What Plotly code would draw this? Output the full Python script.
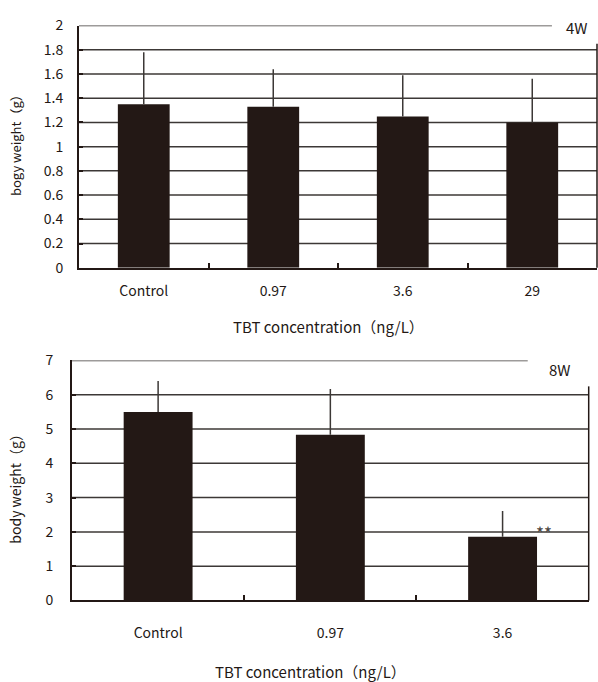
import plotly.graph_objects as go

# ---- data ----
cats_4w = ["Control", "0.97", "3.6", "29"]
mean_4w = [1.35, 1.33, 1.25, 1.20]
sd_4w = [0.43, 0.31, 0.34, 0.36]
yticks_4w = [0, 0.2, 0.4, 0.6, 0.8, 1, 1.2, 1.4, 1.6, 1.8, 2]

cats_8w = ["Control", "0.97", "3.6"]
mean_8w = [5.5, 4.83, 1.86]
sd_8w = [0.90, 1.34, 0.75]
yticks_8w = [0, 1, 2, 3, 4, 5, 6, 7]
sig_cat = "3.6"
sig_text = "**"

BAR = "#231815"
GRID = "#3c3836"
FONT = "Noto Sans CJK JP"
W, H = 598, 682

def py(px):
    return 1 - px / H

fig = go.Figure()
fig.add_trace(go.Bar(x=cats_4w, y=mean_4w, marker=dict(color=BAR, line=dict(width=0)),
                     error_y=dict(type="data", symmetric=False, array=sd_4w,
                                  arrayminus=[0] * len(sd_4w), width=0, thickness=1.5, color=GRID),
                     width=0.4, xaxis="x", yaxis="y", showlegend=False))
fig.add_trace(go.Bar(x=cats_8w, y=mean_8w, marker=dict(color=BAR, line=dict(width=0)),
                     error_y=dict(type="data", symmetric=False, array=sd_8w,
                                  arrayminus=[0] * len(sd_8w), width=0, thickness=1.5, color=GRID),
                     width=0.4, xaxis="x2", yaxis="y2", showlegend=False))

axfont = dict(family=FONT, size=14, color="#231815")
common_x = dict(type="category", showline=True, linecolor="#231815", linewidth=2,
                ticks="inside", ticklen=5, tickwidth=2, tickcolor="#231815",
                tickson="boundaries", showgrid=False, tickfont=axfont, fixedrange=True)
common_y = dict(showline=True, linecolor="#231815", linewidth=2, ticks="inside",
                ticklen=4, tickwidth=2, tickcolor="#231815", showgrid=False,
                zeroline=False, tickfont=axfont, fixedrange=True)

fig.update_layout(
    width=W, height=H, margin=dict(l=0, r=0, t=0, b=0),
    paper_bgcolor="white", plot_bgcolor="white",
    bargap=0.6,
    xaxis=dict(domain=[79 / W, 597 / W], anchor="y", range=[-0.5, len(cats_4w) - 0.5],
               ticklabelstandoff=9, **common_x),
    yaxis=dict(domain=[py(264.5), py(15)], anchor="x", range=[0, 2],
               tickvals=yticks_4w, ticktext=[f"{v:g}" for v in yticks_4w],
               ticklabelstandoff=11, **common_y),
    xaxis2=dict(domain=[72 / W, 588.7 / W], anchor="y2", range=[-0.5, len(cats_8w) - 0.5],
                ticklabelstandoff=19, **common_x),
    yaxis2=dict(domain=[py(607.3), py(360)], anchor="x2", range=[0, 7],
                tickvals=yticks_8w, ticklabelstandoff=14, **common_y),
)

shapes = []
for v in yticks_4w[1:-1]:
    shapes.append(dict(type="line", xref="x domain", yref="y", x0=0, x1=1, y0=v, y1=v,
                       line=dict(color=GRID, width=1.5), layer="below"))
shapes.append(dict(type="line", xref="x domain", yref="y", x0=0, x1=0.913, y0=2, y1=2,
                   line=dict(color=GRID, width=1.5), layer="below"))
shapes.append(dict(type="line", xref="x domain", yref="y domain", x0=1, x1=1, y0=0, y1=0.925,
                   line=dict(color="#231815", width=1.5), layer="below"))
for v in yticks_8w[1:-1]:
    shapes.append(dict(type="line", xref="x2 domain", yref="y2", x0=0, x1=1, y0=v, y1=v,
                       line=dict(color=GRID, width=1.5), layer="below"))
shapes.append(dict(type="line", xref="x2 domain", yref="y2", x0=0, x1=0.882, y0=7, y1=7,
                   line=dict(color=GRID, width=1.5), layer="below"))
shapes.append(dict(type="line", xref="x2 domain", yref="y2 domain", x0=1, x1=1, y0=0, y1=0.892,
                   line=dict(color="#231815", width=1.5), layer="below"))
fig.update_layout(shapes=shapes)

tfont = dict(family=FONT, size=15, color="#231815")
C = dict(xanchor="center", yanchor="middle", showarrow=False)
si = cats_8w.index(sig_cat)
ann = [
    dict(text="4W", x=577 / W, y=py(17), xref="paper", yref="paper", font=tfont, **C),
    dict(text="8W", x=560 / W, y=py(369), xref="paper", yref="paper", font=tfont, **C),
    dict(text="bogy weight（g）", x=15 / W, y=py(135), xref="paper", yref="paper",
         textangle=-90, font=dict(family=FONT, size=13, color="#231815"), **C),
    dict(text="body weight（g）", x=15 / W, y=py(489), xref="paper", yref="paper",
         textangle=-90, font=dict(family=FONT, size=14, color="#231815"), **C),
    dict(text="TBT concentration（ng/L）", x=328 / W, y=py(325), xref="paper", yref="paper",
         font=tfont, **C),
    dict(text="TBT concentration（ng/L）", x=310 / W, y=py(672), xref="paper", yref="paper",
         yshift=-8, font=tfont, **C),
    dict(text=sig_text, x=si, y=mean_8w[si] + sd_8w[si] - 0.35, xref="x2", yref="y2",
         xshift=41, yshift=-10, font=dict(family=FONT, size=17, color="#4a4440"), **C),
]
fig.update_layout(annotations=ann)

fig.write_html("out.html")
